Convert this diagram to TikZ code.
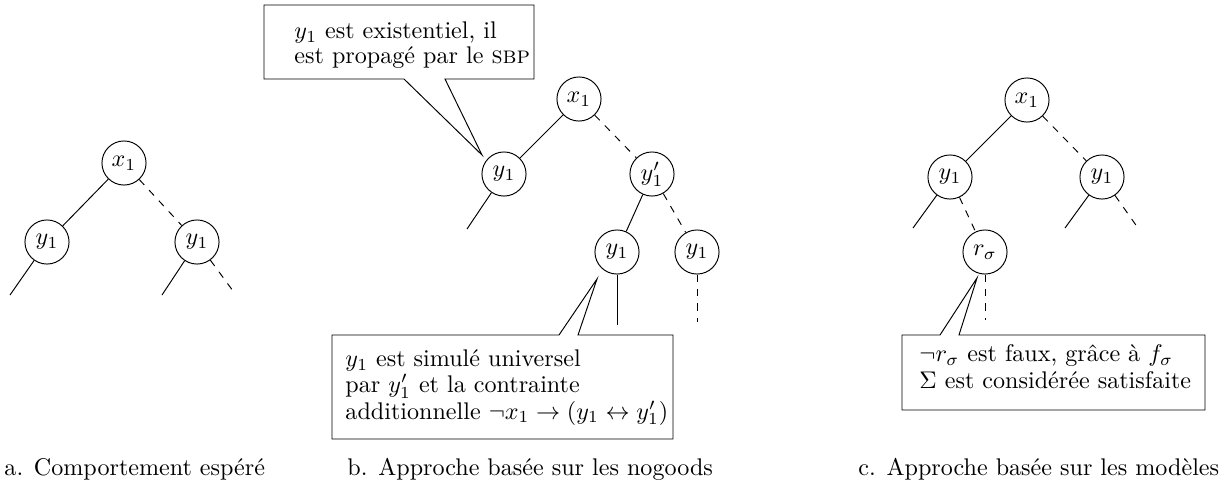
\documentclass[tikz,border=0pt]{standalone}
\usepackage{amsmath,amssymb}
\usepackage{tikz}
\usetikzlibrary{calc}

\tikzset{
  var/.style={draw,circle,minimum size=18.3pt,inner sep=1pt},
  neg/.style={dashed},
  note/.style={anchor=base west,align=left,inner sep=0pt},
  legend/.style={anchor=base west,inner sep=0pt}
}

\begin{document}
\begin{tikzpicture}[x=0.415pt,y=-0.415pt]
  \useasboundingbox (0,0) rectangle (1225,493);
  % a. expected behaviour
  \node[var] (xa) at (124,163) {\(x_1\)};
  \node[var] (ya1) at (47,242) {\(y_1\)};
  \node[var] (ya2) at (197,242) {\(y_1\)};
  \coordinate (la1) at ($(ya1)+(-37,53)$);
  \coordinate (la2) at ($(ya2)+(-35,53)$);
  \coordinate (la3) at ($(ya2)+(39,53)$);
  \draw (xa) -- (ya1);
  \draw[neg] (xa) -- (ya2);
  \draw (ya1) -- (la1);
  \draw (ya2) -- (la2);
  \draw[neg] (ya2) -- (la3);
  \node[legend] (capa) at (4,475) {a. Comportement espéré};

  % b. nogoods
  \node[var] (xb) at (579,99) {\(x_1\)};
  \node[var] (yb1) at (504,174) {\(y_1\)};
  \node[var] (yb2) at (652,174) {\(y'_1\)};
  \node[var] (yb3) at (617,252) {\(y_1\)};
  \node[var] (yb4) at (697,252) {\(y_1\)};
  \coordinate (lb1) at ($(yb1)+(-37,55)$);
  \coordinate (lb2) at ($(yb3)+(0,73)$);
  \coordinate (lb3) at ($(yb4)+(0,70)$);
  \draw (xb) -- (yb1);
  \draw[neg] (xb) -- (yb2);
  \draw (yb1) -- (lb1);
  \draw (yb2) -- (yb3);
  \draw[neg] (yb2) -- (yb4);
  \draw (yb3) -- (lb2);
  \draw[neg] (yb4) -- (lb3);
  % callouts (text anchored on its last baseline)
  \coordinate (tipexist) at ($(yb1)+(-22,-19)$);
  \draw (264,5) -- (534,5) -- (534,79) -- (445,79) -- (tipexist)
    -- (404,79) -- (264,79) -- cycle;
  \node[note] (nexist) at (294,63)
    {\(y_1\) est existentiel, il\\[-2pt]est propagé par le \textsc{sbp}};
  \coordinate (tipsimul) at ($(yb3)+(-20,27)$);
  \draw (332,335) -- (559,335) -- (tipsimul) -- (578,335) -- (673,335)
    -- (673,439) -- (332,439) -- cycle;
  \node[note] (nsimul) at (345,419)
    {\(y_1\) est simulé universel\\[-1.6pt]par \(y'_1\) et la contrainte\\[-0.8pt]additionnelle \(\neg x_1 \rightarrow (y_1 \leftrightarrow y'_1)\)};
  \node[legend] (capb) at (347,475) {b. Approche basée sur les nogoods};

  % c. models
  \node[var] (xc) at (1027,100) {\(x_1\)};
  \node[var] (yc1) at (950,177) {\(y_1\)};
  \node[var] (yc2) at (1102,177) {\(y_1\)};
  \node[var] (rc) at (985,252) {\(r_\sigma\)};
  \coordinate (lc1) at ($(yc1)+(-37,51)$);
  \coordinate (lc2) at ($(yc2)+(-37,51)$);
  \coordinate (lc3) at ($(yc2)+(36,51)$);
  \coordinate (lc4) at ($(rc)+(0,68)$);
  \draw (xc) -- (yc1);
  \draw[neg] (xc) -- (yc2);
  \draw (yc1) -- (lc1);
  \draw[neg] (yc1) -- (rc);
  \draw (yc2) -- (lc2);
  \draw[neg] (yc2) -- (lc3);
  \draw[neg] (rc) -- (lc4);
  \coordinate (tipfaux) at ($(rc)+(-8,26)$);
  \draw (902,335) -- (940,335) -- (tipfaux) -- (959,335) -- (1205,335)
    -- (1205,410) -- (902,410) -- cycle;
  \node[note] (nfaux) at (919,388)
    {\(\neg r_\sigma\) est faux, grâce à \(f_\sigma\)\\[-1.2pt]\(\Sigma\) est considérée satisfaite};
  \node[legend] (capc) at (858,475) {c. Approche basée sur les modèles};
\end{tikzpicture}
\end{document}
